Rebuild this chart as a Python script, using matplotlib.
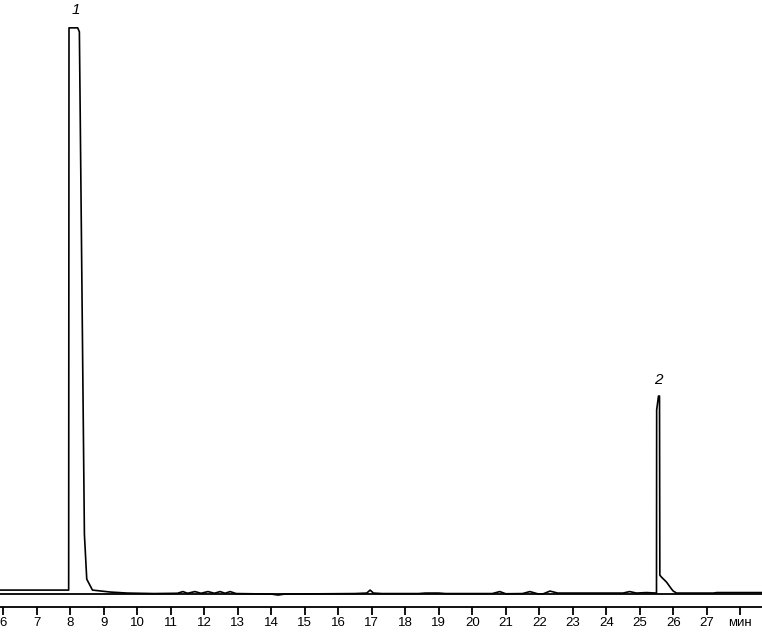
import matplotlib
matplotlib.use("Agg")
import matplotlib.pyplot as plt

# Chromatogram trace (time in minutes, signal in arbitrary units above baseline)
time_min = [5.9, 7.95, 7.96, 8.22, 8.27, 8.42, 8.49, 8.66, 9.2, 9.7, 10.5,
            11.2, 11.36, 11.5, 11.72, 11.9, 12.11, 12.3, 12.47, 12.62, 12.77, 12.95,
            14.0, 14.2, 14.4, 16.5, 16.85, 16.95, 17.05, 17.3, 18.4, 18.6, 19.0, 19.2,
            20.6, 20.82, 21.0, 21.5, 21.72, 21.95, 22.1, 22.32, 22.55, 23.0, 24.5,
            24.7, 24.9, 25.2, 25.5, 25.505, 25.56, 25.59, 25.60, 25.65, 25.80, 25.95,
            26.0, 26.1, 26.8, 27.2, 27.3, 27.9, 28.65]
signal = [4, 4, 569, 569, 565, 60, 15, 4, 2, 1, 0.5,
          0.8, 2.5, 0.8, 2.5, 0.8, 2.5, 0.8, 2.5, 0.8, 2.5, 0.5,
          0, -1, 0, 0.5, 1, 4, 1, 0.5, 0.5, 1, 1, 0.5,
          0.5, 2.5, 0.3, 0.5, 2.5, 0.3, 0, 3, 1, 1, 1,
          2.5, 1, 1.5, 1, 185, 199, 199, 19, 17, 12, 5,
          3, 1, 1, 1, 1.5, 1.5, 1.5]

baseline_t = [5.9, 28.65]
baseline_v = [0, 0]

peak_labels = ["1", "2"]
peak_label_t = [8.15, 25.57]
peak_label_v = [580, 208]

tick_pos = list(range(6, 29))
tick_labels = [str(t) for t in range(6, 28)] + ["мин"]

plt.rcParams['font.family'] = ['Liberation Sans', 'DejaVu Sans']

fig = plt.figure(figsize=(7.62, 6.32), dpi=100)
ax = fig.add_axes([0, 25 / 632, 1, 607 / 632])

ax.plot(baseline_t, baseline_v, color='black', lw=1.3)
ax.plot(time_min, signal, color='black', lw=1.2)

for lab, t, v in zip(peak_labels, peak_label_t, peak_label_v):
    ax.text(t, v, lab, style='italic', fontsize=11, ha='center', va='bottom')

ax.set_xlim(5.9, 28.65)
ax.set_ylim(-13, 597)

for s in ['top', 'left', 'right']:
    ax.spines[s].set_visible(False)
ax.spines['bottom'].set_linewidth(1.3)
ax.set_yticks([])
ax.set_xticks(tick_pos)
ax.set_xticklabels(tick_labels, fontsize=9.5)
ax.tick_params(axis='x', direction='out', length=6, width=1.3, pad=1.5)

fig.savefig("out.png", dpi=100)
